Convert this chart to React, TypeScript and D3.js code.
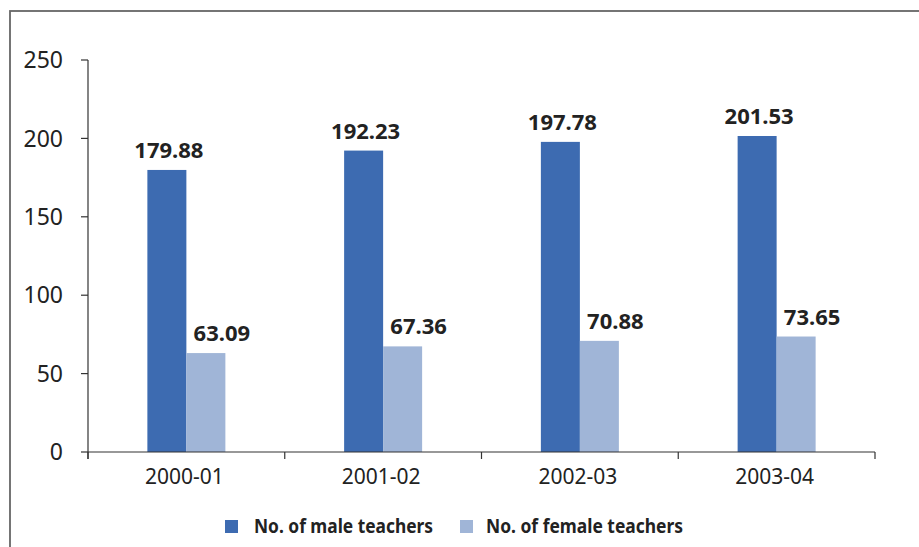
import React from "react";
import * as d3 from "d3";

const categories = ["2000-01", "2001-02", "2002-03", "2003-04"];
const maleValues = [179.88, 192.23, 197.78, 201.53];
const femaleValues = [63.09, 67.36, 70.88, 73.65];
const yTicks = [0, 50, 100, 150, 200, 250];
const seriesNames = ["No. of male teachers", "No. of female teachers"];
const colors = ["#3D6BB1", "#A0B5D7"];

const W = 919;
const H = 547;
const FONT = "'Noto Sans', 'Open Sans', sans-serif";

export default function App() {
  const x = d3.scaleBand<string>().domain(categories).range([88, 875]).paddingInner(0).paddingOuter(0);
  const y = d3.scaleLinear().domain([0, 250]).range([452, 60]);
  const barW = 39;
  const step = x.step();
  const boundaries = d3.range(categories.length + 1).map((i) => 88 + i * step);

  return (
    <svg width={W} height={H} style={{ position: "absolute", left: 0, top: 0, background: "#fff" }}>
      <rect x={10} y={11} width={W + 20} height={H + 20} fill="#fff" stroke="#666" strokeWidth={1.8} />
      {/* y axis */}
      <line x1={88} x2={88} y1={y(250)} y2={y(0) + 7} stroke="#333" strokeWidth={1.2} />
      {yTicks.map((t) => (
        <g key={t}>
          <line x1={81} x2={88} y1={y(t)} y2={y(t)} stroke="#333" strokeWidth={1.2} />
          <text x={63} y={y(t)} dy="0.36em" textAnchor="end" fontFamily={FONT} fontSize={23} fill="#222">
            {t}
          </text>
        </g>
      ))}
      {/* bars */}
      {categories.map((c, i) => {
        const cx = (x(c) as number) + step / 2;
        const mv = maleValues[i];
        const fv = femaleValues[i];
        return (
          <g key={c}>
            <rect x={cx - barW} y={y(mv)} width={barW} height={y(0) - y(mv)} fill={colors[0]} />
            <rect x={cx} y={y(fv)} width={barW} height={y(0) - y(fv)} fill={colors[1]} />
            <text x={cx - barW / 2 + 2} y={y(mv) - 12} textAnchor="middle" fontFamily={FONT} fontWeight="bold" fontSize={22} fill="#222">
              {mv.toFixed(2)}
            </text>
            <text x={cx + barW / 2 + 16} y={y(fv) - 12} textAnchor="middle" fontFamily={FONT} fontWeight="bold" fontSize={22} fill="#222">
              {fv.toFixed(2)}
            </text>
            <text x={cx - 2} y={484} textAnchor="middle" fontFamily={FONT} fontSize={21} fill="#222">
              {c}
            </text>
          </g>
        );
      })}
      {/* x axis */}
      <line x1={88} x2={875} y1={y(0)} y2={y(0)} stroke="#333" strokeWidth={1.2} />
      {boundaries.map((b, i) => (
        <line key={i} x1={b} x2={b} y1={y(0)} y2={y(0) + 7} stroke="#333" strokeWidth={1.2} />
      ))}
      {/* legend */}
      <rect x={225} y={520} width={13} height={13} fill={colors[0]} />
      <text x={254} y={533} fontFamily={FONT} fontWeight="bold" fontSize={20} fill="#222" textLength={179} lengthAdjust="spacingAndGlyphs">
        {seriesNames[0]}
      </text>
      <rect x={460} y={520} width={13} height={13} fill={colors[1]} />
      <text x={486} y={533} fontFamily={FONT} fontWeight="bold" fontSize={20} fill="#222" textLength={197} lengthAdjust="spacingAndGlyphs">
        {seriesNames[1]}
      </text>
    </svg>
  );
}
